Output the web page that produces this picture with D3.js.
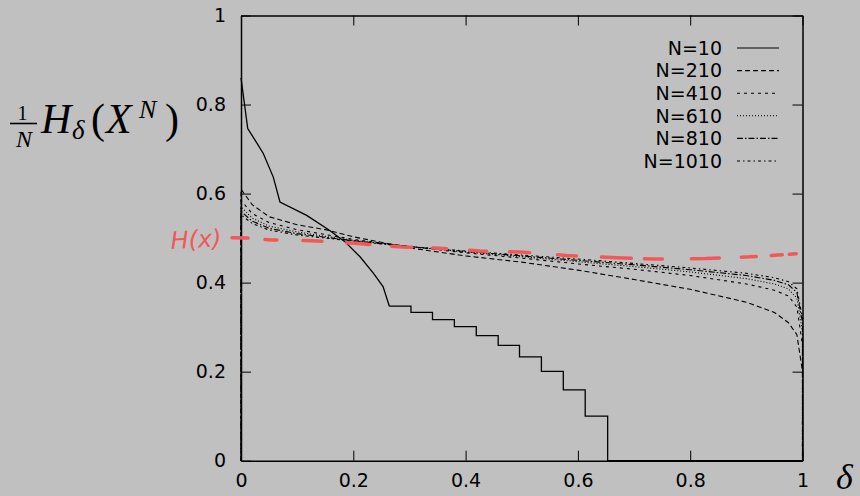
<!DOCTYPE html>
<html><head><meta charset="utf-8">
<script src="https://cdn.jsdelivr.net/npm/d3@7"></script>
<style>
html,body{margin:0;padding:0;background:#c0c0c0;}
svg{display:block;}
</style></head>
<body>
<svg id="chart" width="860" height="496"></svg>
<script>
// ---------- data ----------
const xTickValues = [0, 0.2, 0.4, 0.6, 0.8, 1];
const xTickLabels = ["0", "0.2", "0.4", "0.6", "0.8", "1"];
const yTickValues = [0, 0.2, 0.4, 0.6, 0.8, 1];
const yTickLabels = ["0", "0.2", "0.4", "0.6", "0.8", "1"];

const seriesNames = ["N=10", "N=210", "N=410", "N=610", "N=810", "N=1010"];

// N=10: smooth part then staircase
const n10Smooth = [[0,0.86],[0.012,0.746],[0.025,0.72],[0.0397,0.69],[0.0575,0.637],[0.0694,0.581],
  [0.117,0.551],[0.158,0.517],[0.185,0.492],[0.212,0.458],[0.236,0.421],[0.253,0.391],[0.2642,0.347]];
const n10Steps = [[0.2642,0.347],[0.3027,0.333],[0.341,0.317],[0.380,0.301],[0.419,0.281],[0.458,0.259],
  [0.496,0.233],[0.535,0.2007],[0.574,0.159],[0.613,0.100],[0.653,0],[1,0]];

const deltas = [0, 0.02, 0.05, 0.1, 0.15, 0.2, 0.3, 0.4, 0.5, 0.6, 0.7, 0.8, 0.9, 0.95, 0.975, 0.99, 1];
const n210  = [0.61, 0.575, 0.548, 0.530, 0.519, 0.503, 0.478, 0.460, 0.446, 0.428, 0.407, 0.385, 0.356, 0.333, 0.310, 0.283, 0.20];
const n410  = [0.585, 0.555, 0.535, 0.519, 0.508, 0.497, 0.481, 0.467, 0.455, 0.442, 0.430, 0.416, 0.397, 0.383, 0.370, 0.345, 0.26];
const n610  = [0.57, 0.545, 0.527, 0.514, 0.504, 0.495, 0.481, 0.469, 0.458, 0.447, 0.436, 0.424, 0.409, 0.397, 0.386, 0.365, 0.29];
const n810  = [0.56, 0.538, 0.522, 0.510, 0.502, 0.494, 0.481, 0.470, 0.460, 0.450, 0.440, 0.429, 0.416, 0.405, 0.395, 0.378, 0.31];
const n1010 = [0.552, 0.533, 0.518, 0.507, 0.500, 0.493, 0.481, 0.471, 0.462, 0.453, 0.443, 0.433, 0.421, 0.411, 0.402, 0.386, 0.32];

// hand-drawn red H(x) line
const redDeltas = [-0.016, 0.0125, 0.053, 0.126, 0.208, 0.287, 0.354, 0.425, 0.497, 0.580, 0.669, 0.735, 0.828, 0.906, 0.956, 0.990];
const redValues = [0.501, 0.500, 0.496, 0.494, 0.488, 0.480, 0.477, 0.471, 0.469, 0.461, 0.456, 0.453, 0.454, 0.458, 0.462, 0.465];
const redLabel = "H(x)";

// ---------- drawing ----------
const svg = d3.select("#chart");
const x = d3.scaleLinear().domain([0, 1]).range([241, 802.5]);
const y = d3.scaleLinear().domain([0, 1]).range([460.7, 15.5]);

const dashes = ["none", "5,3", "3,4", "1,2", "6,2,1.5,2", "3,3,1.5,3"];

const line = d3.line().x(d => x(d[0])).y(d => y(d[1]));
const stepLine = d3.line().x(d => x(d[0])).y(d => y(d[1])).curve(d3.curveStepAfter);

const fontSans = "'DejaVu Sans', 'Liberation Sans', sans-serif";

// dashed series
const others = [n210, n410, n610, n810, n1010];
others.forEach((vals, i) => {
  const pts = [[0, 0]].concat(deltas.map((d, j) => [d, vals[j]])).concat([[1, 0]]);
  svg.append("path").attr("d", line(pts)).attr("fill", "none")
    .attr("stroke", "#000").attr("stroke-width", 1.1)
    .attr("stroke-dasharray", dashes[i + 1]);
});

// N=10
svg.append("path").attr("d", line(n10Smooth)).attr("fill", "none").attr("stroke", "#000").attr("stroke-width", 1.3);
svg.append("path").attr("d", stepLine(n10Steps)).attr("fill", "none").attr("stroke", "#000").attr("stroke-width", 1.3);

// axes
function styleAxis(g) {
  g.selectAll(".domain").attr("stroke", "#000").attr("stroke-width", 1.5);
  g.selectAll(".tick line").attr("stroke", "#000").attr("stroke-width", 1);
  g.selectAll("text").attr("font-family", fontSans).attr("font-size", 19).attr("fill", "#000");
}
svg.append("g").attr("transform", `translate(${x(0)},0)`)
  .call(d3.axisLeft(y).tickValues(yTickValues).tickFormat((d, i) => yTickLabels[i]).tickSizeInner(-10).tickSizeOuter(0).tickPadding(15))
  .call(styleAxis);
svg.append("g").attr("transform", `translate(0,${y(0)})`)
  .call(d3.axisBottom(x).tickValues(xTickValues).tickFormat((d, i) => xTickLabels[i]).tickSizeInner(-10).tickSizeOuter(0).tickPadding(13))
  .call(styleAxis);
svg.append("g").attr("transform", `translate(${x(1)},0)`)
  .call(d3.axisRight(y).tickValues(yTickValues).tickFormat("").tickSizeInner(-10).tickSizeOuter(0))
  .call(styleAxis);
svg.append("g").attr("transform", `translate(0,${y(1)})`)
  .call(d3.axisTop(x).tickValues(xTickValues).tickFormat("").tickSizeInner(-10).tickSizeOuter(0))
  .call(styleAxis);

// legend
const legY0 = 48, legDy = 22.6;
seriesNames.forEach((name, i) => {
  const ly = legY0 + i * legDy;
  svg.append("text").attr("x", 722).attr("y", ly).attr("dy", "0.36em")
    .attr("text-anchor", "end").attr("font-family", fontSans).attr("font-size", 19).text(name);
  svg.append("line").attr("x1", 737).attr("x2", 779).attr("y1", ly).attr("y2", ly)
    .attr("stroke", "#000").attr("stroke-width", 1.1).attr("stroke-dasharray", dashes[i]);
});

// red hand-drawn annotation
svg.append("path").attr("d", line(redDeltas.map((d, i) => [d, redValues[i]])))
  .attr("fill", "none").attr("stroke", "#f25858").attr("stroke-width", 3.5).attr("stroke-linecap", "round")
  .attr("stroke-dasharray", "16,17,12,26,19,25,23,22,20,21,14,23,17,23,20,28,19,25,30,13,18,29,28,22,15,15,11,7,7");
svg.append("text").attr("x", 171).attr("y", 249).attr("font-family", "'DejaVu Sans', sans-serif")
  .attr("font-size", 24).attr("font-weight", 300).attr("fill", "#f25858").attr("font-style", "italic")
  .attr("transform", "rotate(-3,171,249)").text(redLabel);

// y axis label: (1/N) H_delta(X^N)
const ser = "'Liberation Serif', 'DejaVu Serif', serif";
const lab = svg.append("g").attr("font-family", ser).attr("fill", "#000");
lab.append("text").attr("x", 22.5).attr("y", 120).attr("text-anchor", "middle").attr("font-size", 20).text("1");
lab.append("line").attr("x1", 10).attr("x2", 37).attr("y1", 123.5).attr("y2", 123.5).attr("stroke", "#000").attr("stroke-width", 1.6);
lab.append("text").attr("x", 24).attr("y", 147).attr("text-anchor", "middle").attr("font-size", 24).attr("font-style", "italic").text("N");
const t = lab.append("text").attr("y", 133).attr("font-size", 42);
t.append("tspan").attr("x", 41).attr("font-style", "italic").text("H");
t.append("tspan").attr("x", 72).attr("y", 139).attr("font-style", "italic").attr("font-size", 27).text("δ");
t.append("tspan").attr("x", 91).attr("y", 133).text("(");
t.append("tspan").attr("x", 106).attr("font-style", "italic").text("X");
t.append("tspan").attr("x", 139).attr("y", 118).attr("font-style", "italic").attr("font-size", 26).text("N");
t.append("tspan").attr("x", 165).attr("y", 133).text(")");

// x axis label
svg.append("text").attr("x", 836).attr("y", 489).attr("font-family", ser).attr("font-size", 36)
  .attr("font-style", "italic").text("δ");
</script>
</body></html>
